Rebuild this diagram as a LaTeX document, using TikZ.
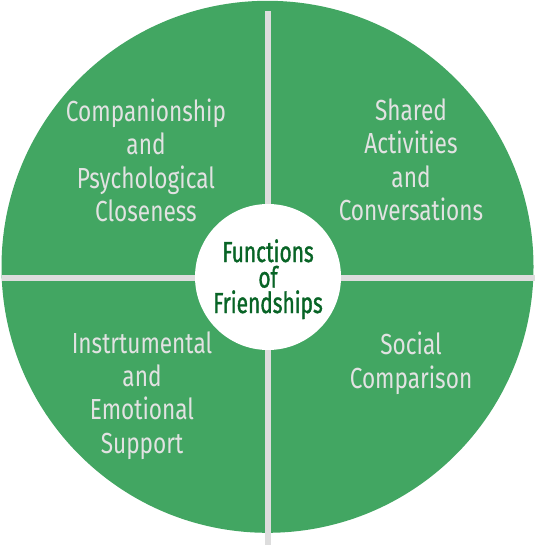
\documentclass[tikz,border=0pt]{standalone}
\usepackage{fontspec}
\newfontfamily\qfont[FakeStretch=0.78]{Fira Sans}
\newfontfamily\cfont[FakeStretch=0.72,FakeBold=1.2]{Fira Sans}
\definecolor{pie}{RGB}{66,166,98}
\definecolor{gap}{RGB}{221,221,221}
\definecolor{qtext}{RGB}{226,226,226}
\definecolor{ctext}{RGB}{8,100,38}
\begin{document}
\begin{tikzpicture}[x=1pt,y=-1pt,
  quadtext/.style={inner sep=0pt,anchor=base,align=center,text=qtext,
    font={\qfont\fontsize{29}{33.3}\selectfont}},
  hubtext/.style={inner sep=0pt,anchor=base,align=center,text=ctext,
    font={\cfont\fontsize{29}{25.5}\selectfont}},
  divider/.style={draw=gap,line width=6pt}]
\useasboundingbox (0,0) rectangle (536,545);
\node[circle,fill=pie,minimum size=532pt,inner sep=0pt] (outer) at (267.5,266.8) {};
\coordinate (vtop) at (268,11);
\coordinate (vbot) at (268,545);
\coordinate (hl) at (2,278);
\coordinate (hr) at (535,278);
\draw[divider] (vtop) -- (vbot);
\draw[divider] (hl) -- (hr);
\node[circle,fill=white,minimum size=146pt,inner sep=0pt] (hub) at (268,277) {};
\node[quadtext] (tl) at (146,221.5) {Companionship\\and\\Psychological\\Closeness};
\node[quadtext] (tr) at (411,220.5) {Shared\\Activities\\and\\Conversations};
\node[quadtext] (bl) at (142,453) {Instrtumental\\and\\Emotional\\Support};
\node[quadtext] (br) at (411,388) {Social\\Comparison};
\node[hubtext] (title) at (268,313) {Functions\\of\\Friendships};
\end{tikzpicture}
\end{document}
